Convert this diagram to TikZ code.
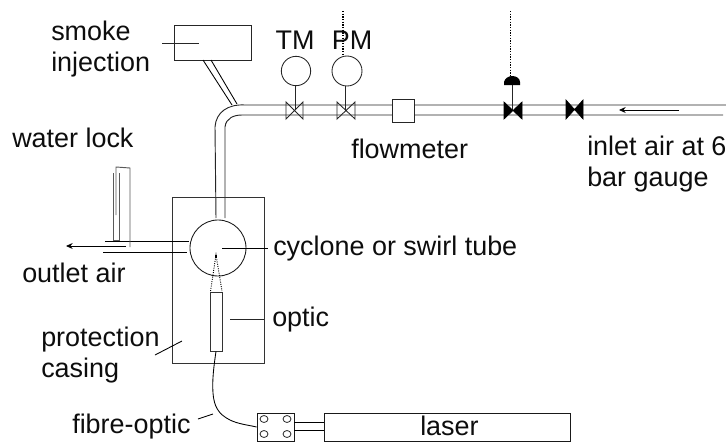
\documentclass[tikz,border=0pt]{standalone}
\usepackage{fontspec}
\usetikzlibrary{arrows.meta}
\setmainfont{Liberation Sans}
\begin{document}
\begin{tikzpicture}[x=0.75pt,y=-0.75pt,
  ln/.style={draw=black!85,line width=0.7pt},
  lnk/.style={draw=black,line width=0.65pt},
  lab/.style={inner sep=0pt,align=left,font=\fontsize{20.2}{24}\selectfont,text=black!95},
  flow/.style={draw=black,line width=0.65pt,-{Stealth[length=5pt,width=4.5pt]}},
  bowopen/.style={draw=black!85,line width=0.65pt},
  bowfill/.style={fill=black,draw=black,line width=0.5pt},
  dotline/.style={draw=black,line width=1pt,densely dotted}]
\useasboundingbox (0,0) rectangle (726,443);
% smoke
\node[lnk,draw=black!85,minimum width=57.75pt,minimum height=26.25pt,inner sep=0pt] (smoke) at (212.5,42.5) {};
\coordinate (s1) at (162,43); \coordinate (s2) at (199,43);
\draw[ln] (s1)--(s2);
\coordinate (d1a) at (203,60); \coordinate (d1b) at (232,105);
\coordinate (d2a) at (211,60); \coordinate (d2b) at (237,104);
\draw[lnk] (d1a)--(d1b); \draw[lnk] (d2a)--(d2b);
% main pipe
\coordinate (pt) at (726,105); \coordinate (pb) at (723,115);
\coordinate (et) at (245,105); \coordinate (eb) at (242,115);
\draw[ln] (pt)--(et) .. controls (228,104) and (216,112) .. (215,127) -- (216,218);
\draw[ln] (pb)--(eb) .. controls (234,115) and (226,118) .. (225,127) -- (225,218);
% gauges
\node[draw=black!85,line width=0.65pt,circle,minimum size=22pt,inner sep=0pt] (gt) at (296,71) {};
\node[draw=black!85,line width=0.65pt,circle,minimum size=22.5pt,inner sep=0pt] (gp) at (347,71) {};
\coordinate (vt) at (295,110); \coordinate (vp) at (345,110);
\draw[ln] (gt.south)++(-1,0)--(vt);
\draw[ln] (gp.south)++(-2,0)--(vp);
\draw[bowopen] (286,102)--(303,119)--(303,102)--(286,119)--cycle;
\draw[bowopen] (337,102)--(355,119)--(355,102)--(337,119)--cycle;
\coordinate (ptop) at (343,11); \coordinate (pbot) at (343,54);
\draw[dotline] (ptop)--(pbot);
% flowmeter
\node[draw=black!85,fill=white,line width=0.65pt,minimum width=16.5pt,minimum height=17.2pt,inner sep=0pt] (fm) at (403,110.5) {};
% control valves
\coordinate (cv) at (512,110); \coordinate (act) at (512,85);
\draw[ln] (act)--(cv);
\fill[black] (504,85)--(504,82) .. controls (505,78) and (509,76) .. (512,76) .. controls (516,76) and (520,78) .. (520,82)--(520,85)--cycle;
\draw[bowfill] (504,102)--(522,119)--(522,102)--(504,119)--cycle;
\draw[bowfill] (566,100)--(583,119)--(583,100)--(566,119)--cycle;
\coordinate (ctop) at (510,11); \coordinate (cbot) at (510,76);
\draw[dotline,line width=0.7pt] (ctop)--(cbot);
% arrows
\coordinate (ain) at (679,110); \coordinate (aout) at (619,110);
\draw[flow] (ain)--(aout);
% casing
\node[draw=black!80,line width=0.65pt,minimum width=69pt,minimum height=124.5pt,inner sep=0pt] (casing) at (218,280) {};
\node[draw=black!90,fill=white,line width=0.65pt,circle,minimum size=42pt,inner sep=0pt] (cyc) at (218,248) {};
% outlet
\draw[lnk] (105,241)--(189,241);
\draw[lnk] (103,252)--(187,252);
\coordinate (ob) at (126,246); \coordinate (oe) at (66,246);
\draw[flow] (ob)--(oe);
% water lock
\draw[draw=black!65,line width=0.7pt] (113,173)--(113,240)--(119,240)--(119,173);
\draw[draw=black!65,line width=0.7pt] (116,215)--(116,167)--(130,168)--(130,247);
% optic
\node[draw=black!80,line width=0.65pt,fill=white,minimum width=9pt,minimum height=44.25pt,inner sep=0pt] (optic) at (216,321.5) {};
\draw[black,line width=0.7pt,densely dotted] (210.5,291)--(216,255)--(222,291);
\draw[black,line width=1.6pt] (216,255)--(216,258);
% connector
\node[draw=black!90,line width=0.65pt,minimum width=27.75pt,minimum height=21pt,inner sep=0pt] (conn) at (275.5,427) {};
\foreach \cx/\cy in {264/419,287/419,264/434,287/434}
  \draw[black!85,line width=0.6pt] (\cx,\cy) ellipse [x radius=3pt,y radius=2.6pt];
\node[draw=black!90,line width=0.65pt,minimum width=184.5pt,minimum height=21pt,inner sep=0pt] (laser) at (447,427) {};
\draw[lnk] (294,422)--(324,422);
\draw[lnk] (294,430)--(324,430);
% fibre
\draw[lnk] (optic.south) .. controls (214,365) and (212,380) .. (213,393) .. controls (214,406) and (218,414) .. (230,420) .. controls (238,424) and (248,425) .. (conn.west);
% labels
\node[lab,anchor=base west] (l1) at (51,40) {smoke};
\node[lab,anchor=base west] (l2) at (51,71) {injection};
\node[lab,anchor=base] at (295,49) {TM};
\node[lab,anchor=base] at (352,49) {PM};
\node[lab,anchor=base west] at (351,158) {flowmeter};
\node[lab,anchor=base west] at (587,155) {inlet air at 6};
\node[lab,anchor=base west] at (587,186) {bar gauge};
\node[lab,anchor=base west] at (12,147) {water lock};
\node[lab,anchor=base west] at (22,282) {outlet air};
\node[lab,anchor=base west] at (273,255) {cyclone or swirl tube};
\node[lab,anchor=base west] at (272,326) {optic};
\node[lab,anchor=base west] at (41,346) {protection};
\node[lab,anchor=base west] at (41,377) {casing};
\node[lab,anchor=base west] at (72,433) {fibre-optic};
\node[lab,anchor=base west] at (420,435) {laser};
% leaders
\draw[lnk] (222,248)--(268,248);
\draw[ln] (230,319)--(264,319);
\draw[lnk] (155,355)--(182,341);
\draw[lnk] (198,419)--(213,414);
\end{tikzpicture}
\end{document}
